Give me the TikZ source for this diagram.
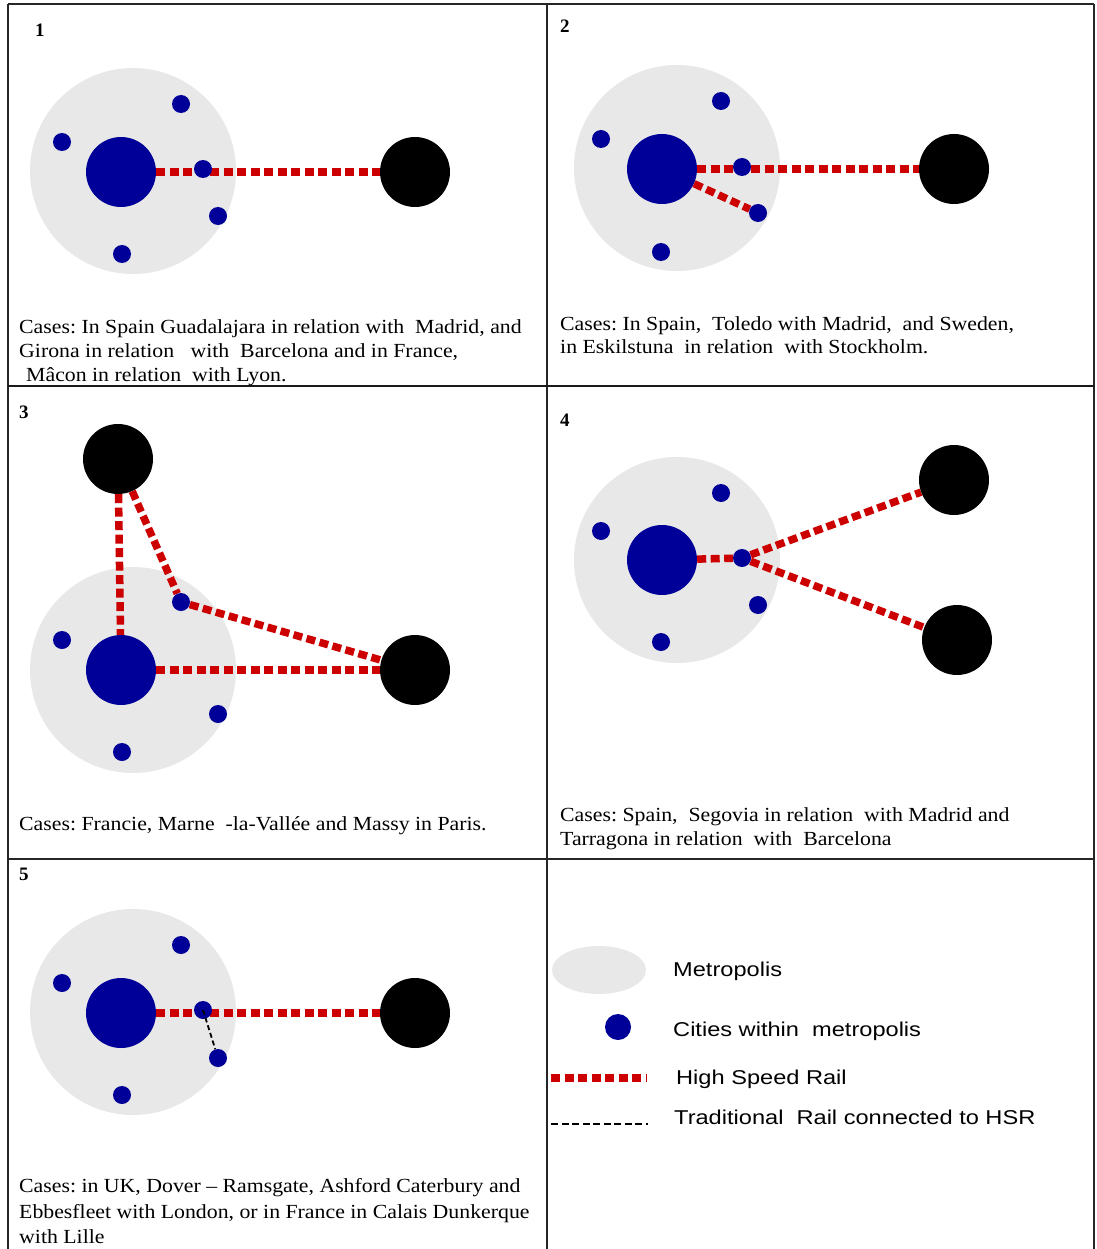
\documentclass[tikz,border=0pt]{standalone}
\usepackage{fontspec}
\setmainfont{Liberation Serif}
\newfontfamily\capfont[FakeStretch=1.09]{Liberation Serif}
\newfontfamily\legendfont[FakeStretch=1.18]{Liberation Sans}
\usetikzlibrary{shapes.geometric}
\definecolor{metrogray}{HTML}{E8E8E8}
\definecolor{hubblue}{HTML}{000099}
\definecolor{hsrred}{HTML}{CC0000}
\pgfdeclarelayer{back}
\pgfdeclarelayer{mid}
\pgfsetlayers{back,mid,main}
\frenchspacing
\tikzset{
  metro/.style={circle, fill=metrogray, minimum size=206pt, inner sep=0pt},
  hub/.style={circle, fill=hubblue, minimum size=70pt, inner sep=0pt},
  town/.style={circle, fill=hubblue, minimum size=18pt, inner sep=0pt},
  farcity/.style={circle, fill=black, minimum size=70pt, inner sep=0pt},
  hsr/.style={draw=hsrred, line width=7.5pt, dash pattern=on 9pt off 4.5pt},
  trad/.style={draw=black, line width=1.8pt, dash pattern=on 5pt off 3pt},
  tradlegend/.style={draw=black, line width=2pt, dash pattern=on 7pt off 3.5pt},
  caption/.style={anchor=base west, inner sep=0pt, font=\capfont\fontsize{20}{24}\selectfont\frenchspacing},
  legtext/.style={anchor=base west, inner sep=0pt, font=\legendfont\fontsize{20}{24}\selectfont},
  panelno/.style={anchor=base west, inner sep=0pt, font=\bfseries\fontsize{19}{22}\selectfont},
  gridline/.style={draw=black!85, line width=1.5pt},
  gridthick/.style={draw=black!90, line width=2.5pt}
}
\begin{document}
\begin{tikzpicture}[x=1pt,y=-1pt]
\useasboundingbox (0,0) rectangle (1096,1249);
\begin{pgfonlayer}{back}
  \fill[white] (0,0) rectangle (1096,1249);
\end{pgfonlayer}

% ---------- grid ----------
\draw[gridline] (8,4) -- (1094,4);
\draw[gridline] (8,4) -- (8,1249);
\draw[gridline] (1094,4) -- (1094,1249);
\draw[gridline] (547,4) -- (547,1249);
\draw[gridthick] (8,386) -- (1094,386);
\draw[gridline] (8,859) -- (1094,859);

% ---------- panel labels ----------
\node[panelno] (n1) at (35,37) {1};
\node[panelno] (n2) at (560,33) {2};
\node[panelno] (n3) at (19,418) {3};
\node[panelno] (n4) at (560,426) {4};
\node[panelno] (n5) at (19,880) {5};

% ---------- metropolis areas ----------
\begin{pgfonlayer}{back}
  \node[metro] (m1) at (133,171) {};
  \node[metro] (m2) at (677,168) {};
  \node[metro] (m3) at (133,670) {};
  \node[metro] (m4) at (677,560) {};
  \node[metro] (m5) at (133,1012) {};
\end{pgfonlayer}

% ---------- panel 1 ----------
\node[hub] (b1) at (121,172) {};
\node[farcity] (k1) at (415,172) {};
\node[town] (t1a) at (62,142) {};
\node[town] (t1b) at (181,104) {};
\node[town] (t1c) at (203,169) {};
\node[town] (t1d) at (218,216) {};
\node[town] (t1e) at (122,254) {};

% ---------- panel 2 ----------
\node[hub] (b2) at (662,169) {};
\node[farcity] (k2) at (954,169) {};
\node[town] (t2a) at (601,139) {};
\node[town] (t2b) at (721,101) {};
\node[town] (t2c) at (742,167) {};
\node[town] (t2d) at (758,213) {};
\node[town] (t2e) at (661,252) {};

% ---------- panel 3 ----------
\node[hub] (b3) at (121,670) {};
\node[farcity] (k3a) at (118,459) {};
\node[farcity] (k3b) at (415,670) {};
\node[town] (t3a) at (62,640) {};
\node[town] (t3b) at (181,602) {};
\node[town] (t3d) at (218,714) {};
\node[town] (t3e) at (122,752) {};

% ---------- panel 4 ----------
\node[hub] (b4) at (662,560) {};
\node[farcity] (k4a) at (954,480) {};
\node[farcity] (k4b) at (957,640) {};
\node[town] (t4a) at (601,531) {};
\node[town] (t4b) at (721,493) {};
\node[town] (t4c) at (742,558) {};
\node[town] (t4d) at (758,605) {};
\node[town] (t4e) at (661,642) {};

% ---------- panel 5 ----------
\node[hub] (b5) at (121,1013) {};
\node[farcity] (k5) at (415,1013) {};
\node[town] (t5a) at (62,983) {};
\node[town] (t5b) at (181,945) {};
\node[town] (t5c) at (203,1010) {};
\node[town] (t5d) at (218,1058) {};
\node[town] (t5e) at (122,1095) {};

% ---------- connectors ----------
\begin{pgfonlayer}{mid}
  \draw[hsr] (b1) -- (k1);
  \draw[hsr] (b2) -- (k2);
  \draw[hsr] (b2) -- (t2d);
  \draw[hsr] (k3a) -- (b3);
  \draw[hsr] (k3a) -- (t3b);
  \draw[hsr] (t3b) -- (k3b);
  \draw[hsr] (b3) -- (k3b);
  \draw[hsr] (b4) -- (t4c);
  \draw[hsr] (t4c) -- (k4a);
  \draw[hsr] (t4c) -- (k4b);
  \draw[hsr] (b5) -- (k5);
\end{pgfonlayer}
\draw[trad] (t5c.center) -- (t5d);

% ---------- captions ----------
\node[caption] (c1a) at (19,333) {Cases: In Spain Guadalajara in relation with\ \ Madrid, and};
\node[caption] (c1b) at (19,357) {Girona in relation\ \ \ with\ \ Barcelona and in France,};
\node[caption] (c1c) at (26,381) {Mâcon in relation\ \ with Lyon.};
\node[caption] (c2a) at (560,330) {Cases: In Spain,\ \ Toledo with Madrid,\ \ and Sweden,};
\node[caption] (c2b) at (560,353) {in Eskilstuna\ \ in relation\ \ with Stockholm.};
\node[caption] (c3a) at (19,830) {Cases: Francie, Marne\ \ -la-Vallée and Massy in Paris.};
\node[caption] (c4a) at (560,821) {Cases: Spain,\ \ Segovia in relation\ \ with Madrid and};
\node[caption] (c4b) at (560,845) {Tarragona in relation\ \ with\ \ Barcelona};
\node[caption] (c5a) at (19,1192) {Cases: in UK, Dover – Ramsgate, Ashford Caterbury and};
\node[caption] (c5b) at (19,1218) {Ebbesfleet with London, or in France in Calais Dunkerque};
\node[caption] (c5c) at (19,1243) {with Lille};

% ---------- legend ----------
\node[ellipse, fill=metrogray, minimum width=94pt, minimum height=48pt, inner sep=0pt] (lm) at (599,970) {};
\node[circle, fill=hubblue, minimum size=26pt, inner sep=0pt] (lc) at (618,1027) {};
\coordinate (lh1) at (551,1078);
\coordinate (lh2) at (647,1078);
\draw[hsr] (lh1) -- (lh2);
\coordinate (lt1) at (551,1124);
\coordinate (lt2) at (648,1124);
\draw[tradlegend] (lt1) -- (lt2);
\node[legtext] (lmt) at (673,976) {Metropolis};
\node[legtext] (lct) at (673,1036) {Cities within\ \ metropolis};
\node[legtext] (lht) at (676,1084) {High Speed Rail};
\node[legtext] (ltt) at (674,1124) {Traditional\ \ Rail connected to HSR};
\end{tikzpicture}
\end{document}
